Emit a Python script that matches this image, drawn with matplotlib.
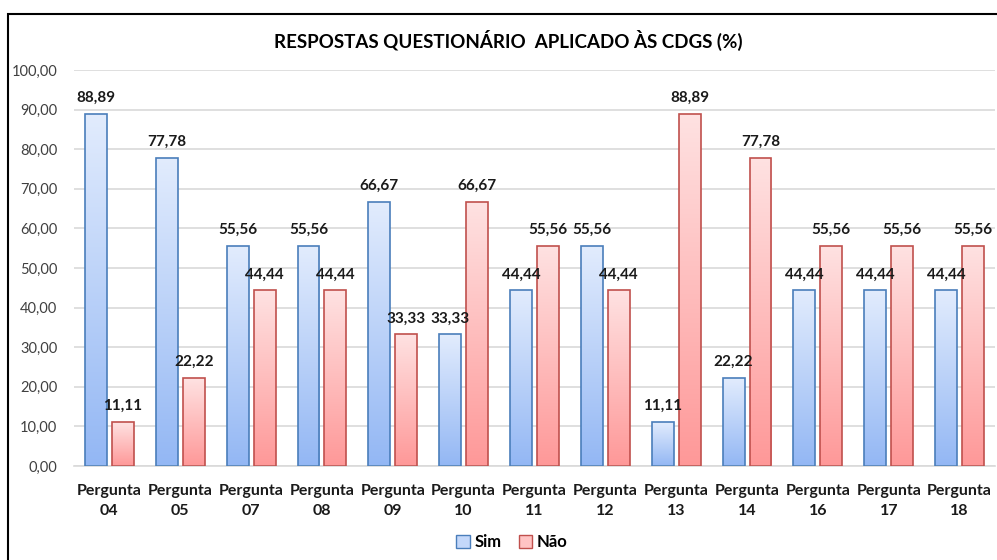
import matplotlib
matplotlib.use("Agg")
import matplotlib.pyplot as plt
import numpy as np
from matplotlib.patches import Rectangle, Patch
from matplotlib.colors import LinearSegmentedColormap

plt.rcParams['font.family'] = ['Lato', 'DejaVu Sans']

categories = ["Pergunta\n04", "Pergunta\n05", "Pergunta\n07", "Pergunta\n08", "Pergunta\n09",
              "Pergunta\n10", "Pergunta\n11", "Pergunta\n12", "Pergunta\n13", "Pergunta\n14",
              "Pergunta\n16", "Pergunta\n17", "Pergunta\n18"]
sim = [88.89, 77.78, 55.56, 55.56, 66.67, 33.33, 44.44, 55.56, 11.11, 22.22, 44.44, 44.44, 44.44]
nao = [11.11, 22.22, 44.44, 44.44, 33.33, 66.67, 55.56, 44.44, 88.89, 77.78, 55.56, 55.56, 55.56]
yticks = np.arange(0, 101, 10)

fig = plt.figure(figsize=(9.97, 5.6), dpi=100)
ax = fig.add_axes([74/997, 1-466/560, (995-74)/997, (466-70)/560])

# border
fig.patches.append(Rectangle((8/997, -0.1), 1.1, 1-14/560+0.1, transform=fig.transFigure,
                             fill=False, edgecolor='black', linewidth=1.5))

x = np.arange(len(categories))
w = 0.31
off = 0.035 + w/2

blue_cmap = LinearSegmentedColormap.from_list('b', ['#93b7f4', '#e2ecfd'])
red_cmap = LinearSegmentedColormap.from_list('r', ['#ff9898', '#fee2e2'])
grad = np.linspace(0, 1, 256).reshape(-1, 1)

def draw(xs, vals, cmap, edge):
    bars = ax.bar(xs, vals, w, facecolor='none', edgecolor=edge, linewidth=1.2, zorder=3)
    for b in bars:
        x0, y0 = b.get_x(), b.get_y()
        wd, ht = b.get_width(), b.get_height()
        im = ax.imshow(grad, cmap=cmap, origin='lower', aspect='auto',
                       extent=[x0, x0+wd, y0, y0+ht], zorder=2)
        im.set_clip_path(b)
    for xi, v in zip(xs, vals):
        ax.text(xi, v + 2.2, f"{v:.2f}".replace('.', ','), ha='center', va='bottom',
                fontsize=11, fontweight='bold', color='#1a1a1a', zorder=4)
    return bars

bs = draw(x - off, sim, blue_cmap, '#4a7ebb')
br = draw(x + off, nao, red_cmap, '#c0504d')

ax.set_xlim(-0.5, len(categories) - 0.5)
ax.set_ylim(0, 100)
ax.set_yticks(yticks)
ax.set_yticklabels([f"{t:.2f}".replace('.', ',') for t in yticks], fontsize=10.5, color='#404040')
ax.set_xticks(x)
ax.set_xticklabels(categories, fontsize=11.5, fontweight='bold', color='#1a1a1a', linespacing=1.55)
ax.tick_params(axis='both', length=0)
ax.tick_params(axis='x', pad=13)
ax.tick_params(axis='y', pad=12)
ax.grid(axis='y', color='#d9d9d9', linewidth=1.2, zorder=0)
for s in ['top', 'right', 'left']:
    ax.spines[s].set_visible(False)
ax.spines['bottom'].set_color('#d9d9d9')
ax.spines['bottom'].set_linewidth(1.2)

fig.text(0.51, 1-40/560, "RESPOSTAS QUESTIONÁRIO  APLICADO ÀS CDGS (%)", ha='center', va='center',
         fontsize=13.5, fontweight='bold', color='black')

handles = [Patch(facecolor='#c4d8fa', edgecolor='#4a7ebb', label='Sim'),
           Patch(facecolor='#ffc4c4', edgecolor='#c0504d', label='Não')]
leg = fig.legend(handles=handles, loc='center', bbox_to_anchor=(512/997, 1-542/560), ncol=2,
                 frameon=False, fontsize=12, handlelength=0.8, handleheight=0.8,
                 handletextpad=0.3, columnspacing=1.0)
for t in leg.get_texts():
    t.set_fontweight('bold')

fig.savefig("out.png", dpi=100)
